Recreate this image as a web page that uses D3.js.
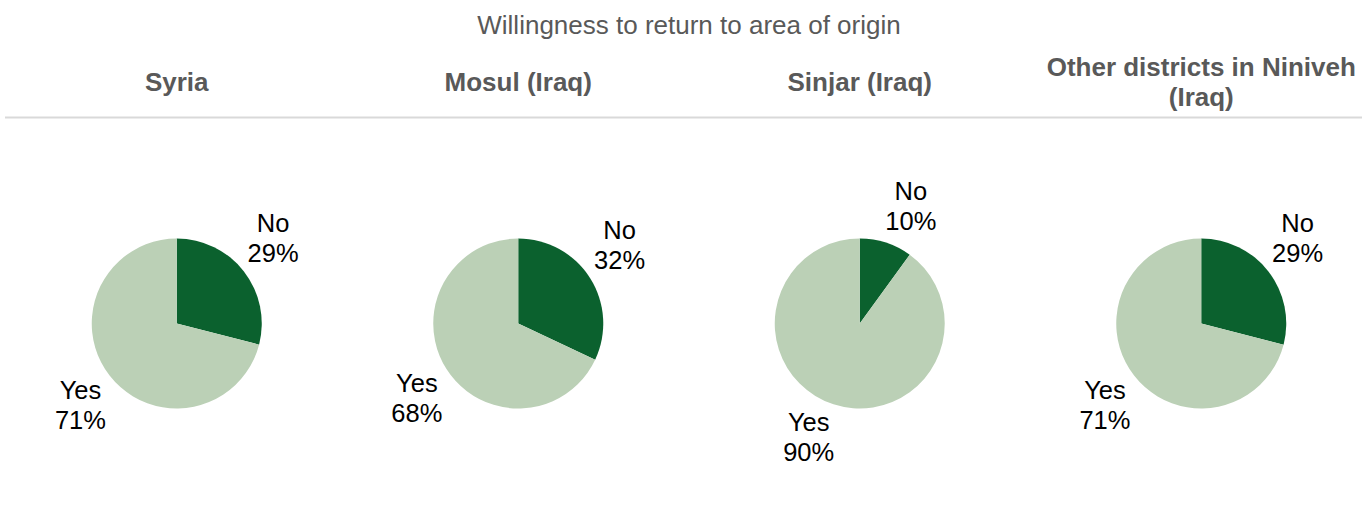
<!DOCTYPE html>
<html>
<head>
<meta charset="utf-8">
<script src="https://cdn.jsdelivr.net/npm/d3@7"></script>
<style>
  html, body { margin: 0; padding: 0; background: #fff; }
  svg { display: block; font-family: "Liberation Sans", Arial, sans-serif; }
</style>
</head>
<body>
<svg id="chart" width="1362" height="521"></svg>
<script>
const chartTitle = "Willingness to return to area of origin";
const regions = ["Syria", "Mosul (Iraq)", "Sinjar (Iraq)", "Other districts in Niniveh (Iraq)"];
const answers = ["No", "Yes"];
const noValues = [29, 32, 10, 29];
const yesValues = [71, 68, 90, 71];

const W = 1362, H = 521;
const svg = d3.select("#chart");
const colors = d3.scaleOrdinal().domain(answers).range(["#0b612e", "#bbd0b6"]);
const textGray = "#595959";

// title
svg.append("text")
  .attr("x", 689).attr("y", 34)
  .attr("text-anchor", "middle")
  .attr("fill", textGray)
  .attr("font-size", 26)
  .text(chartTitle);

const x = d3.scaleBand().domain(regions).range([6, 1372]).padding(0);
const radius = 85;
const cy = 323.5;

// headers
regions.forEach(r => {
  const cx = x(r) + x.bandwidth() / 2;
  const t = svg.append("text")
    .attr("text-anchor", "middle")
    .attr("fill", textGray)
    .attr("font-size", 26)
    .attr("font-weight", "bold");
  const words = r.split(" ");
  const lines = [];
  let cur = [];
  const probe = t.append("tspan");
  words.forEach(w => {
    const test = cur.concat([w]).join(" ");
    probe.text(test);
    if (probe.node().getComputedTextLength() > 325 && cur.length) {
      lines.push(cur.join(" "));
      cur = [w];
    } else cur = cur.concat([w]);
  });
  lines.push(cur.join(" "));
  probe.remove();
  const lh = 30;
  const baseY = 91 - (lines.length - 1) * lh / 2;
  lines.forEach((ln, i) => {
    t.append("tspan").attr("x", cx).attr("y", baseY + i * lh).text(ln);
  });
});

// separator
svg.append("line")
  .attr("x1", 5).attr("x2", W).attr("y1", 117.5).attr("y2", 117.5)
  .attr("stroke", "#d9d9d9").attr("stroke-width", 2);

const pie = d3.pie().sort(null).value(d => d.value);
const arc = d3.arc().innerRadius(0).outerRadius(radius);

regions.forEach((r, i) => {
  const cx = x(r) + x.bandwidth() / 2;
  const data = [
    { answer: answers[0], value: noValues[i] },
    { answer: answers[1], value: yesValues[i] }
  ];
  const g = svg.append("g").attr("transform", `translate(${cx},${cy})`);
  const arcs = pie(data);
  g.selectAll("path").data(arcs).join("path")
    .attr("d", arc)
    .attr("fill", d => colors(d.data.answer));

  arcs.forEach(a => {
    const mid = (a.startAngle + a.endAngle) / 2;
    const rr = radius + 9;
    const px = rr * Math.sin(mid), py = -rr * Math.cos(mid);
    const t = g.append("text")
      .attr("text-anchor", "middle")
      .attr("fill", "#000")
      .attr("font-size", 25.5);
    const l1 = t.append("tspan").text(a.data.answer);
    const l2 = t.append("tspan").text(a.data.value + "%");
    const w = Math.max(l1.node().getComputedTextLength(), l2.node().getComputedTextLength());
    const lx = px + Math.sign(Math.sin(mid)) * (w / 2 - 3.5);
    const ly = py - Math.sign(Math.cos(mid)) * 26 - 2;
    l1.attr("x", lx).attr("y", ly - 6);
    l2.attr("x", lx).attr("y", ly + 24);
  });
});
</script>
</body>
</html>
